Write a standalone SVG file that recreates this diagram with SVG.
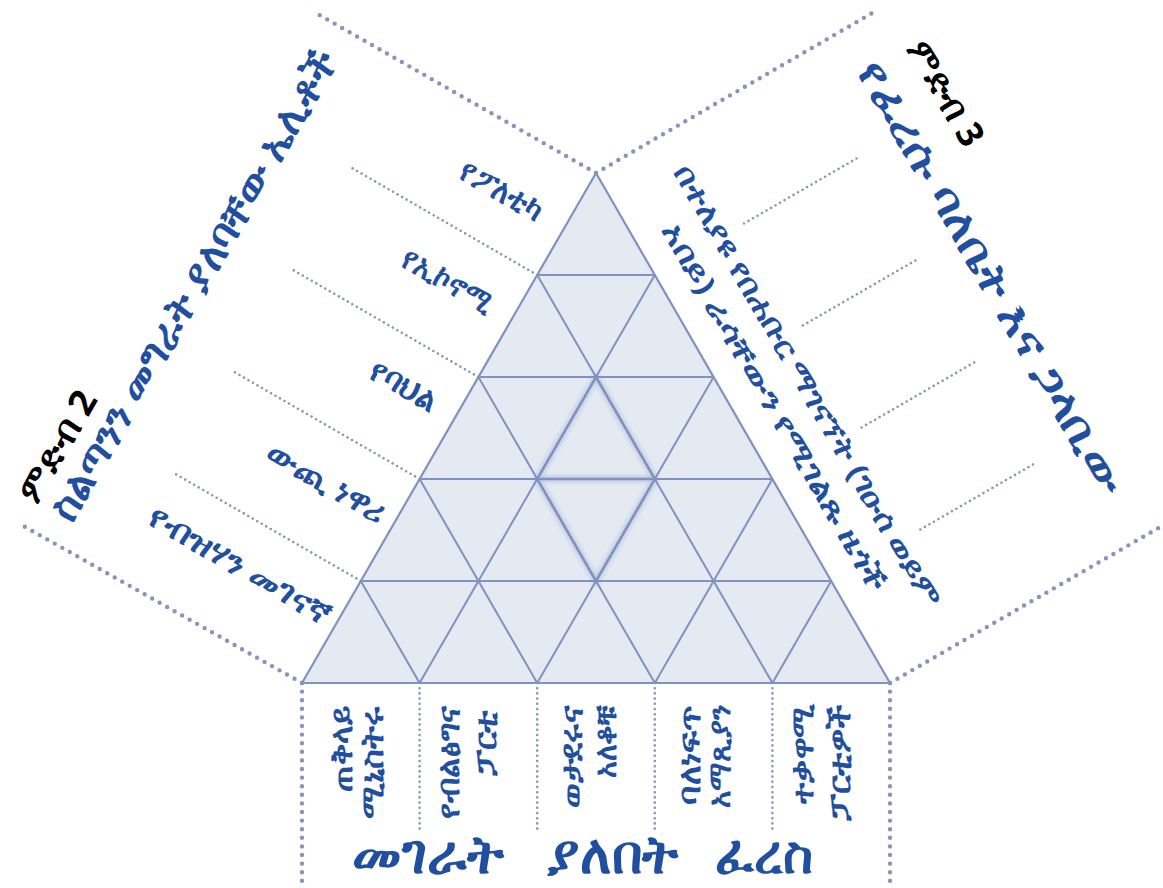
<svg xmlns="http://www.w3.org/2000/svg" width="1163" height="888" viewBox="0 0 1163 888">
<defs>
<style>
.bg{fill:#ffffff}
.tri{fill:#e4e9f2;stroke:#7f92c0;stroke-width:2.2;stroke-linejoin:round}
.grid{fill:none;stroke:#7f92c0;stroke-width:2}
.hl{fill:none;stroke:#7f92c0;stroke-width:2.4}
.hlb{fill:none;stroke:#6f84bb;stroke-width:6;opacity:0.3}
.dot{fill:none;stroke:#8795bb;stroke-width:2.6;stroke-dasharray:0 5.2;stroke-linecap:round}
.dotb{fill:none;stroke:#8795bb;stroke-width:4.4;stroke-dasharray:0 8.6;stroke-linecap:round}
.lab{font-family:"Noto Sans","DejaVu Sans",sans-serif;fill:#1f4f9e;font-size:32px;font-weight:bold}
.rt{font-family:"Noto Sans","DejaVu Sans",sans-serif;fill:#1f4f9e;font-size:29px;font-weight:bold}
.col{font-family:"Noto Sans","DejaVu Sans",sans-serif;fill:#1f4f9e;font-size:31px;font-weight:bold}
.ttl{font-family:"Noto Sans","DejaVu Sans",sans-serif;fill:#1f4f9e;font-size:42px;font-weight:bold}
.grp{font-family:"Noto Sans","DejaVu Sans",sans-serif;fill:#000000;font-size:36px;font-weight:bold}
.big{font-family:"Noto Sans","DejaVu Sans",sans-serif;fill:#1f4f9e;font-size:54px;font-weight:bold}
</style>
<filter id="blur" x="-20%" y="-20%" width="140%" height="140%"><feGaussianBlur stdDeviation="2"/></filter>
</defs>
<rect class="bg" x="0" y="0" width="1163" height="888"/>

<g id="connectors">
  <line class="dotb" x1="596" y1="173" x2="316" y2="13"/>
  <line class="dotb" x1="302" y1="683" x2="20" y2="524"/>
  <line class="dotb" x1="596" y1="173" x2="874" y2="12"/>
  <line class="dotb" x1="890" y1="683" x2="1167" y2="523"/>
  <line class="dotb" x1="302" y1="683" x2="302" y2="888"/>
  <line class="dotb" x1="890" y1="683" x2="890" y2="888"/>
  <line class="dot" x1="537.2" y1="275" x2="348.4" y2="166"/>
  <line class="dot" x1="478.4" y1="377" x2="289.6" y2="268"/>
  <line class="dot" x1="419.6" y1="479" x2="230.8" y2="370"/>
  <line class="dot" x1="360.8" y1="581" x2="172" y2="472"/>
  <line class="dot" x1="744" y1="223.5" x2="860" y2="156.5"/>
  <line class="dot" x1="802.8" y1="325.5" x2="918.8" y2="258.5"/>
  <line class="dot" x1="861.6" y1="427.5" x2="977.6" y2="360.5"/>
  <line class="dot" x1="920.4" y1="529.5" x2="1036.4" y2="462.5"/>
  <line class="dot" x1="419.6" y1="683" x2="419.6" y2="833"/>
  <line class="dot" x1="537.2" y1="683" x2="537.2" y2="833"/>
  <line class="dot" x1="654.8" y1="683" x2="654.8" y2="833"/>
  <line class="dot" x1="772.4" y1="683" x2="772.4" y2="833"/>
</g>

<g id="pyramid">
  <polygon class="tri" points="596,173 302,683 890,683"/>
  <path class="grid" d="M537.2,275H654.8 M478.4,377H713.6 M419.6,479H772.4 M360.8,581H831.2
    M419.6,683L654.8,275 M537.2,683L713.6,377 M654.8,683L772.4,479 M772.4,683L831.2,581
    M772.4,683L537.2,275 M654.8,683L478.4,377 M537.2,683L419.6,479 M419.6,683L360.8,581"/>
  <path class="hlb" filter="url(#blur)" d="M596,377L537.2,479L596,581L654.8,479Z M537.2,479H654.8"/>
  <path class="hl" d="M596,377L537.2,479L596,581L654.8,479Z M537.2,479H654.8"/>
</g>

<g id="group2">
  <text class="grp" transform="translate(57,446) rotate(-60)" text-anchor="middle" dy="0.35em" textLength="122" lengthAdjust="spacingAndGlyphs">ምድብ 2</text>
  <text class="ttl" transform="translate(193,285) rotate(-60)" text-anchor="middle" dy="0.35em" textLength="535" lengthAdjust="spacingAndGlyphs">ስልጣንን መግራት ያለባቸው ኤሊቶች</text>
</g>

<g id="elites">
  <text class="lab" transform="translate(502,190) rotate(30)" text-anchor="middle" dy="0.35em" textLength="90" lengthAdjust="spacingAndGlyphs">የፖለቲካ</text>
  <text class="lab" transform="translate(448,280) rotate(30)" text-anchor="middle" dy="0.35em" textLength="100" lengthAdjust="spacingAndGlyphs">የኢኮኖሚ</text>
  <text class="lab" transform="translate(404,385) rotate(30)" text-anchor="middle" dy="0.35em" textLength="72" lengthAdjust="spacingAndGlyphs">የባህል</text>
  <text class="lab" transform="translate(327,482) rotate(30)" text-anchor="middle" dy="0.35em" textLength="132" lengthAdjust="spacingAndGlyphs">ውጪ ነዋሪ</text>
  <text class="lab" transform="translate(240,565) rotate(30)" text-anchor="middle" dy="0.35em" textLength="205" lengthAdjust="spacingAndGlyphs">የብዝሃን መገናኛ</text>
</g>

<g id="group3">
  <text class="grp" transform="translate(946,93) rotate(60)" text-anchor="middle" dy="0.35em" textLength="116" lengthAdjust="spacingAndGlyphs">ምድብ 3</text>
  <text class="ttl" transform="translate(992,277) rotate(60)" text-anchor="middle" dy="0.35em" textLength="492" lengthAdjust="spacingAndGlyphs">የፈረሱ ባለቤት እና ጋላቢው</text>
</g>

<g id="citizens">
  <text class="rt" transform="translate(808,386) rotate(60)" text-anchor="middle" dy="0.35em" textLength="505" lengthAdjust="spacingAndGlyphs">በተለያዩ የበሐቡር ማገናኘት (ገዑሰ ወይም</text>
  <text class="rt" transform="translate(775,407) rotate(60)" text-anchor="middle" dy="0.35em" textLength="420" lengthAdjust="spacingAndGlyphs">አበይ) ራሳቸውን የሚገልጹ ዜጎች</text>
</g>

<g id="horse">
  <g id="col1">
    <text class="col" transform="translate(341,706) rotate(-90)" text-anchor="end" dy="0.35em" textLength="86" lengthAdjust="spacingAndGlyphs">ጠቅላይ</text>
    <text class="col" transform="translate(372,706) rotate(-90)" text-anchor="end" dy="0.35em" textLength="113" lengthAdjust="spacingAndGlyphs">ሚኒስትሩ</text>
  </g>
  <g id="col2">
    <text class="col" transform="translate(448,706) rotate(-90)" text-anchor="end" dy="0.35em" textLength="113" lengthAdjust="spacingAndGlyphs">የብልፅግና</text>
    <text class="col" transform="translate(485,710) rotate(-90)" text-anchor="end" dy="0.35em" textLength="66" lengthAdjust="spacingAndGlyphs">ፓርቲ</text>
  </g>
  <g id="col3">
    <text class="col" transform="translate(571,706) rotate(-90)" text-anchor="end" dy="0.35em" textLength="102" lengthAdjust="spacingAndGlyphs">ወታደሩና</text>
    <text class="col" transform="translate(605,706) rotate(-90)" text-anchor="end" dy="0.35em" textLength="72" lengthAdjust="spacingAndGlyphs">አለቆቹ</text>
  </g>
  <g id="col4">
    <text class="col" transform="translate(689,705) rotate(-90)" text-anchor="end" dy="0.35em" textLength="100" lengthAdjust="spacingAndGlyphs">ባለነፍጥ</text>
    <text class="col" transform="translate(719,705) rotate(-90)" text-anchor="end" dy="0.35em" textLength="103" lengthAdjust="spacingAndGlyphs">አማጺያን</text>
  </g>
  <g id="col5">
    <text class="col" transform="translate(802,704) rotate(-90)" text-anchor="end" dy="0.35em" textLength="100" lengthAdjust="spacingAndGlyphs">ተቃዋሚ</text>
    <text class="col" transform="translate(839,704) rotate(-90)" text-anchor="end" dy="0.35em" textLength="117" lengthAdjust="spacingAndGlyphs">ፓርቲዎች</text>
  </g>
  <text class="big" y="873"><tspan x="352" textLength="151" lengthAdjust="spacingAndGlyphs">መገራት</tspan> <tspan x="547" textLength="131" lengthAdjust="spacingAndGlyphs">ያለበት</tspan> <tspan x="715" textLength="98" lengthAdjust="spacingAndGlyphs">ፈረስ</tspan></text>
</g>
</svg>
